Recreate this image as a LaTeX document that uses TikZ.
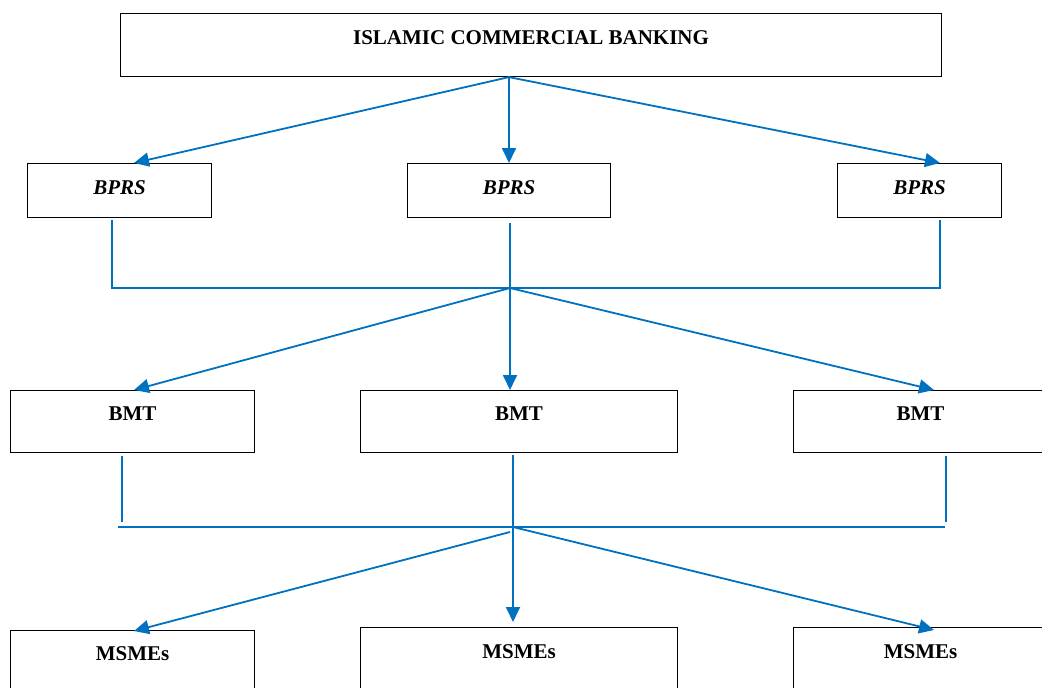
\documentclass[tikz,border=0pt]{standalone}
\usepackage{fontspec}
\setmainfont{Liberation Serif}
\usetikzlibrary{arrows.meta,calc}
\definecolor{linkblue}{RGB}{0,112,192}
\begin{document}
\begin{tikzpicture}[x=1pt,y=-1pt,
  box/.style={draw=black,line width=1.1pt,inner sep=0pt,anchor=north west,
    font=\fontsize{21}{24}\selectfont\bfseries},
  ibox/.style={box,font=\fontsize{21}{24}\selectfont\bfseries\itshape},
  link/.style={draw=linkblue,line width=1.8pt},
  arr/.style={link,-{Triangle[length=15pt,width=14pt]}}]
\useasboundingbox (0,0) rectangle (1042,688);
% boxes
\node[box,minimum width=821pt,text height=31pt,text depth=32pt] (top) at (120,13) {ISLAMIC COMMERCIAL BANKING};
\node[ibox,minimum width=184pt,text height=31pt,text depth=23pt] (b1) at (27,163) {BPRS};
\node[ibox,minimum width=203pt,text height=31pt,text depth=23pt] (b2) at (407,163) {BPRS};
\node[ibox,minimum width=164pt,text height=31pt,text depth=23pt] (b3) at (837,163) {BPRS};
\node[box,minimum width=244pt,text height=30pt,text depth=32pt] (m1) at (10,390) {BMT};
\node[box,minimum width=317pt,text height=30pt,text depth=32pt] (m2) at (360,390) {BMT};
\node[box,minimum width=254pt,text height=30pt,text depth=32pt] (m3) at (793,390) {BMT};
\node[box,minimum width=244pt,text height=30pt,text depth=40pt] (s1) at (10,630) {MSMEs};
\node[box,minimum width=317pt,text height=31pt,text depth=40pt] (s2) at (360,627) {MSMEs};
\node[box,minimum width=254pt,text height=31pt,text depth=40pt] (s3) at (793,627) {MSMEs};
% junction coordinates
\coordinate (hub1) at ($(top.south west)+(389,0)$);
\coordinate (j1l) at (112,288);
\coordinate (j1) at (510,288);
\coordinate (j1r) at (940,288);
\coordinate (v2l) at (122,522);
\coordinate (v2m) at (513,527);
\coordinate (v2r) at (946,522);
\coordinate (j2l) at (118,527);
\coordinate (j2) at (513,527);
\coordinate (j2r) at (945,527);
\coordinate (j2a) at (510,532);
% level 1 arrows
\draw[arr] (hub1) -- ($(b1.north west)+(107,0)$);
\draw[arr] (hub1) -- ($(b2.north west)+(102,0)$);
\draw[arr] (hub1) -- ($(b3.north west)+(103,0)$);
% BPRS collectors
\draw[link] ($(b1.south west)+(85,2)$) -- (j1l) -- (j1r) -- ($(b3.south west)+(103,2)$);
\draw[link] ($(b2.south west)+(103,5)$) -- (j1);
% level 2 arrows
\draw[arr] (j1) -- ($(m1.north west)+(124,0)$);
\draw[arr] (j1) -- ($(m2.north west)+(150,0)$);
\draw[arr] (j1) -- ($(m3.north west)+(141,0)$);
% BMT collectors
\draw[link] ($(m1.south west)+(112,3)$) -- (v2l);
\draw[link] ($(m2.south west)+(153,2)$) -- (v2m);
\draw[link] ($(m3.south west)+(153,3)$) -- (v2r);
\draw[link] (j2l) -- (j2r);
% level 3 arrows
\draw[arr] (j2a) -- ($(s1.north west)+(124,1)$);
\draw[arr] (j2) -- ($(s2.north west)+(153,-5)$);
\draw[arr] (j2) -- ($(s3.north west)+(141,3)$);
\end{tikzpicture}
\end{document}
